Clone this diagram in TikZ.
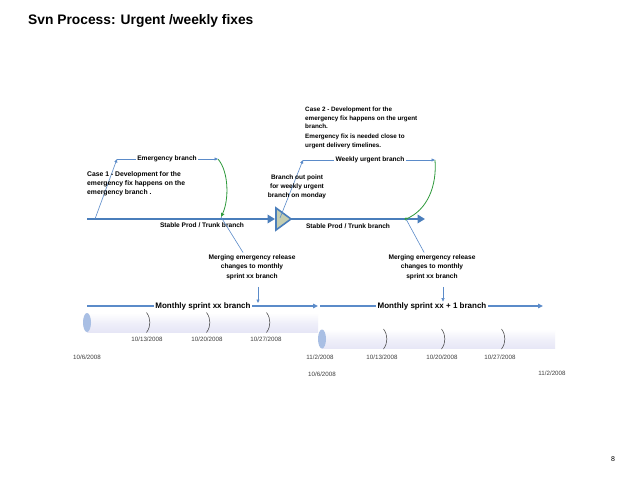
\documentclass[tikz,border=0pt]{standalone}
\usepackage{fontspec}
\setmainfont{Liberation Sans}
\usetikzlibrary{arrows.meta}
\definecolor{trunkblue}{HTML}{4A7EBB}
\definecolor{thinblue}{HTML}{5B8BC9}
\definecolor{fixgreen}{HTML}{2F9A3C}
\definecolor{pipeend}{HTML}{A9BFE4}
\definecolor{pipemid}{HTML}{E6E6F6}
\definecolor{bopfill}{HTML}{C4CDB0}
\newcommand{\fsz}[2]{\fontsize{#1}{#2}\selectfont}
\begin{document}
\begin{tikzpicture}[x=1pt,y=-1pt,
    trunk/.style={draw=trunkblue,line width=2.6pt,-{Triangle[length=7.5pt,width=8.5pt]}},
    thin/.style={draw=thinblue,line width=0.6pt,-{Triangle[length=3.5pt,width=3pt]}},
    fix/.style={draw=fixgreen,line width=0.8pt},
    sprint/.style={draw=thinblue,line width=1.4pt,-{Triangle[length=5pt,width=4.5pt]}},
    txt/.style={inner sep=0pt,font=\bfseries\fsz{6.5}{8.7}},
    lbl/.style={fill=white,inner xsep=1.5pt,inner ysep=0.5pt,font=\bfseries\fsz{6.6}{8}},
    date/.style={inner sep=0pt,text=black!75,font=\fsz{6.2}{7}},
    tick/.style={draw=black!80,line width=0.5pt}]
    \useasboundingbox[fill=white] (0,0) rectangle (638,479);
    \node[anchor=base west,inner sep=0pt,font=\bfseries\fsz{13.8}{16}] (title) at (28,24) {Svn Process: Urgent /weekly fixes};
    \node[inner sep=0pt,font=\fsz{7}{8}] (page) at (613,459) {8};
    % pipes
    \foreach \xa/\xb/\yc in {87/318/322.5, 322/555/339}{
        \shade[top color=white,bottom color=pipemid,middle color=pipemid!60] (\xa,\yc-9.5) rectangle (\xb,\yc+9.5);
        \fill[pipeend] (\xa,\yc) ellipse (4 and 9.5);
    }
    \foreach \x/\y in {148/322.5, 208/322.5, 268/322.5, 385/339, 443/339, 503/339}
        \draw[tick] (\x-1.5,\y-10) .. controls (\x+3,\y-4) and (\x+3,\y+4) .. (\x-1.5,\y+10);
    \foreach \x/\y/\d [count=\i] in {147/339/{10/13/2008}, 207/339/{10/20/2008}, 266/339/{10/27/2008},
        87/357/{10/6/2008}, 320/357/{11/2/2008}, 322/374/{10/6/2008},
        382/357/{10/13/2008}, 442/357/{10/20/2008}, 500/357/{10/27/2008}, 552/373/{11/2/2008}}
        \node[date] (date\i) at (\x,\y) {\d};
    % monthly sprint branches
    \coordinate (ms0) at (87,306);
    \coordinate (ms1) at (318,306);
    \coordinate (ms2) at (320,306);
    \coordinate (ms3) at (543,306);
    \draw[sprint] (ms0) -- (ms1);
    \draw[sprint] (ms2) -- (ms3);
    \node[lbl,font=\bfseries\fsz{8}{9}] (msl1) at (203,306) {Monthly sprint xx branch};
    \node[lbl,font=\bfseries\fsz{8}{9}] (msl2) at (432,306) {Monthly sprint xx + 1 branch};
    % trunk
    \coordinate (tr0) at (87,219);
    \coordinate (bopW) at (275,219);
    \coordinate (bopE) at (291,219);
    \coordinate (tr1) at (425,219);
    \draw[trunk] (tr0) -- (bopW);
    \draw[trunk] (bopE) -- (tr1);
    \draw[fill=bopfill,draw=trunkblue,line width=1.6pt] (276,208) -- (bopE) -- (276,230) -- cycle;
    \node[txt,font=\bfseries\fsz{6.6}{8}] (st1) at (202,225) {Stable Prod / Trunk branch};
    \node[txt,font=\bfseries\fsz{6.6}{8}] (st2) at (348,226) {Stable Prod / Trunk branch};
    % case 1
    \coordinate (eb0) at (95,219);
    \coordinate (eb1) at (117,159);
    \coordinate (eb2) at (218,159);
    \coordinate (em1) at (221,217);
    \draw[thin] (eb0) -- (eb1);
    \draw[thin] (eb1) -- (eb2);
    \node[lbl] (ebl) at (167,159) {Emergency branch};
    \draw[fix,-{Triangle[length=4pt,width=3.5pt]}] (eb2) .. controls (229,172) and (229,200) .. (em1);
    \node[txt,anchor=west,align=left,font=\bfseries\fsz{6.8}{9}] (case1) at (87,184)
        {Case 1 - Development for the\\emergency fix happens on the\\emergency branch .};
    % case 2
    \coordinate (wu0) at (280,218);
    \coordinate (wu1) at (303,160);
    \coordinate (wu2) at (435,160);
    \coordinate (em2) at (406,219);
    \draw[thin] (wu0) -- (wu1);
    \draw[thin] (wu1) -- (wu2);
    \node[lbl] (wul) at (370,160) {Weekly urgent branch};
    \draw[fix] (wu2) .. controls (437,185) and (428,210) .. (em2);
    \fill[fixgreen] (em2) circle (1.6);
    \node[txt,anchor=west,align=left,font=\bfseries\fsz{6.3}{8.6}] (case2) at (305,128)
        {Case 2 - Development for the\\emergency fix happens on the urgent\\branch.\\[1.5pt]Emergency fix is needed close to\\urgent delivery timelines.};
    \node[txt,align=center] (bop) at (297,187) {Branch out point\\for weekly urgent\\branch on monday};
    % merges
    \node[txt,align=center,font=\bfseries\fsz{6.6}{9.5}] (mg1) at (252,267) {Merging emergency release\\changes to monthly\\sprint xx branch};
    \node[txt,align=center,font=\bfseries\fsz{6.6}{9.5}] (mg2) at (432,267) {Merging emergency release\\changes to monthly\\sprint xx branch};
    \coordinate (m1) at (258,303);
    \coordinate (m2) at (msl2.north -| 443,0);
    \draw[thin,-,shorten >=2pt] (em1) -- (mg1);
    \draw[thin,-,shorten >=2pt] (em2) -- (mg2);
    \draw[thin,shorten <=7pt] (mg1.south -| m1) -- (m1);
    \draw[thin,shorten <=7pt] (mg2.south -| m2) -- (m2);
\end{tikzpicture}
\end{document}
